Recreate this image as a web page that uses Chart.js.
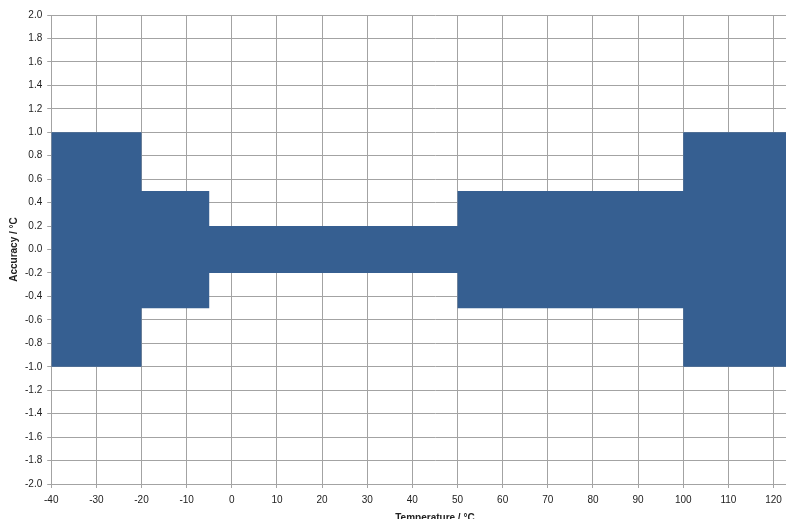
<!DOCTYPE html>
<html>
<head>
<meta charset="utf-8">
<script src="https://cdn.jsdelivr.net/npm/chart.js@4"></script>
<style>
  html, body { margin: 0; padding: 0; background: #fff; overflow: hidden; }
  #wrap { width: 833px; height: 524px; }
</style>
</head>
<body>
<div id="wrap"><canvas id="chart"></canvas></div>
<script>
// ===== DATA =====
// band edges in °C, accuracy limit (±) applies from that edge up to the next one
const tempEdges = [-40, -20, -5, 50, 100, 130];
const accuracyLimit = [1.0, 0.5, 0.2, 0.5, 1.0, 1.0];
const yTicks = [-2.0, -1.8, -1.6, -1.4, -1.2, -1.0, -0.8, -0.6, -0.4, -0.2, 0.0,
                0.2, 0.4, 0.6, 0.8, 1.0, 1.2, 1.4, 1.6, 1.8, 2.0];

const fillColor = "#365F91";
const gridColor = "#a3a3a3";
const textColor = "#222222";

const upper = tempEdges.map((t, i) => ({ x: t, y: accuracyLimit[i] }));
const lower = tempEdges.map((t, i) => ({ x: t, y: -accuracyLimit[i] }));

Chart.defaults.font.family = "'Liberation Sans', Arial, sans-serif";
Chart.defaults.font.size = 10;
Chart.defaults.color = textColor;

new Chart(document.getElementById("chart"), {
    type: "line",
    data: {
        datasets: [
            {
                label: "upper",
                data: upper,
                stepped: "before",
                borderWidth: 0,
                pointRadius: 0,
                fill: false,
            },
            {
                label: "lower",
                data: lower,
                stepped: "before",
                borderWidth: 0,
                pointRadius: 0,
                backgroundColor: fillColor,
                fill: "-1",
            },
        ],
    },
    options: {
        responsive: true,
        maintainAspectRatio: false,
        animation: false,
        layout: { padding: { left: 8, right: 4, top: 15, bottom: 0 } },
        plugins: {
            legend: { display: false },
            tooltip: { enabled: false },
        },
        scales: {
            x: {
                type: "linear",
                min: -40,
                max: 130,
                ticks: { stepSize: 10, padding: 6 },
                grid: { color: gridColor, tickLength: 4 },
                border: { color: gridColor },
                title: {
                    display: true,
                    text: "Temperature / °C",
                    font: { weight: "bold", size: 10 },
                    padding: { top: 0, bottom: 0 },
                },
            },
            y: {
                min: -2,
                max: 2,
                afterBuildTicks: (scale) => {
                    scale.ticks = yTicks.map((v) => ({ value: v }));
                },
                ticks: {
                    padding: 5,
                    callback: (v) => Number(v).toFixed(1),
                },
                grid: { color: gridColor, tickLength: 4 },
                border: { color: gridColor },
                title: {
                    display: true,
                    text: "Accuracy / °C",
                    font: { weight: "bold", size: 10 },
                    padding: { top: 0, bottom: 0 },
                },
            },
        },
    },
});
</script>
</body>
</html>
